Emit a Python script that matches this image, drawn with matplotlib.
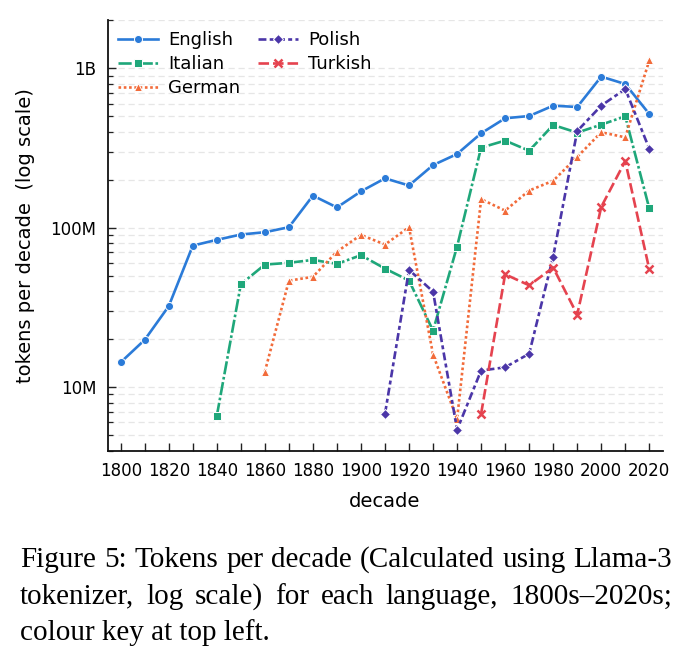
import matplotlib
matplotlib.use("Agg")
import matplotlib.pyplot as plt
from matplotlib.ticker import FixedLocator, LogLocator, NullFormatter

plt.rcParams["font.family"] = ["DejaVu Sans"]

decades = list(range(1800, 2030, 10))

english = [14.3e6, 19.8e6, 32.2e6, 77.2e6, 83.9e6, 90.6e6, 93.7e6, 100.7e6,
           159e6, 134e6, 169e6, 204e6, 184e6, 247e6, 290e6, 391e6, 486e6,
           502e6, 583e6, 572e6, 887e6, 797e6, 517e6]
italian_decades = list(range(1840, 2030, 10))
italian = [6.6e6, 44.2e6, 58.7e6, 60.2e6, 62.8e6, 59.3e6, 67.2e6, 55.4e6,
           46.6e6, 22.6e6, 76.2e6, 318e6, 352e6, 304e6, 441e6, 395e6, 443e6,
           500e6, 132e6]
german_decades = list(range(1860, 2030, 10))
german = [12.5e6, 46.5e6, 49.2e6, 70.8e6, 90.1e6, 78.4e6, 100.7e6, 16.0e6,
          6.3e6, 151e6, 128e6, 171e6, 197e6, 278e6, 397e6, 369e6, 1.12e9]
polish_decades = list(range(1910, 2030, 10))
polish = [6.8e6, 54.4e6, 39.7e6, 5.4e6, 12.7e6, 13.3e6, 16.2e6, 65.9e6,
          404e6, 583e6, 742e6, 313e6]
turkish_decades = list(range(1950, 2030, 10))
turkish = [6.8e6, 51e6, 43.5e6, 56.2e6, 28.5e6, 135e6, 262e6, 54.8e6]

series_names = ["English", "Italian", "German", "Polish", "Turkish"]
colors = ["#2b7bd8", "#1fa77a", "#f26b3a", "#4b36a8", "#e5434f"]
markers = ["o", "s", "^", "D", "x"]
dashes = [None, (5, 1, 1, 1), (1, 1), (3, 1.25, 1.5, 1.25), (4, 1.5)]

ytick_vals = [1e7, 1e8, 1e9]
ytick_labels = ["10M", "100M", "1B"]
xtick_labels_every = 20

caption_lines = ["Figure 5: Tokens per decade (Calculated using Llama-3",
                 "tokenizer, log scale) for each language, 1800s\u20132020s;",
                 "colour key at top left."]

W, H = 691, 661
fig = plt.figure(figsize=(W/100, H/100), dpi=100)
ax = fig.add_axes([107.5/W, 1 - 450.5/H, (662.5-107.5)/W, (450.5-20)/H])

data = [(decades, english), (italian_decades, italian), (german_decades, german),
        (polish_decades, polish), (turkish_decades, turkish)]

for (xs, ys), name, c, m, d in zip(data, series_names, colors, markers, dashes):
    kw = dict(color=c, lw=1.9, marker=m, label=name, zorder=3)
    if m == "x":
        kw.update(markersize=6, markeredgewidth=1.8, markeredgecolor=c)
    elif m == "D":
        kw.update(markersize=4.8, markeredgecolor="white", markeredgewidth=0.7)
    else:
        kw.update(markersize=5.8, markeredgecolor="white", markeredgewidth=0.7)
    line, = ax.plot(xs, ys, **kw)
    if d is not None:
        line.set_dashes(d)

ax.set_yscale("log")
ax.set_ylim(4.0e6, 2.01e9)
ax.set_xlim(1794.5, 2025.5)

ax.yaxis.set_major_locator(FixedLocator(ytick_vals))
ax.set_yticklabels(ytick_labels)
ax.yaxis.set_minor_locator(LogLocator(base=10, subs=range(2, 10)))
ax.yaxis.set_minor_formatter(NullFormatter())

ax.set_xticks(decades)
ax.set_xticklabels([str(d) if d % xtick_labels_every == 0 else "" for d in decades])

ax.tick_params(axis="both", which="major", direction="in", length=5.5, width=1.0,
               labelsize=12, color="#222222")
ax.tick_params(axis="y", which="minor", direction="in", length=3.5, width=0.9, color="#222222")
ax.tick_params(axis="x", which="major", pad=8)
ax.tick_params(axis="y", which="major", pad=8)

for s in ["top", "right"]:
    ax.spines[s].set_visible(False)
for s in ["left", "bottom"]:
    ax.spines[s].set_linewidth(1.3)
    ax.spines[s].set_color("#111111")

ax.grid(True, axis="y", which="both", linestyle=(0, (5, 3)), color="#e6e6e6", lw=0.9, zorder=0)
ax.set_axisbelow(True)

ax.set_xlabel("decade", fontsize=14, labelpad=9)
ax.set_ylabel("tokens per decade  (log scale)", fontsize=14, labelpad=11)

leg = ax.legend(loc="upper left", ncol=2, frameon=False, fontsize=13,
                handlelength=2.2, columnspacing=1.0, handletextpad=0.55,
                labelspacing=0.35, borderaxespad=0.2)

# caption (first two lines justified to the same width, as in the source)
cap_kw = dict(fontsize=21.0, family="Liberation Serif", va="baseline", ha="left")
left_px, right_px = 20, 672
baselines = [566.7, 603.7, 640.0]
renderer = fig.canvas.get_renderer()
for i, (txt, base) in enumerate(zip(caption_lines, baselines)):
    y = 1 - base / H
    if i == len(caption_lines) - 1:
        fig.text(left_px / W, y, txt, **cap_kw)
        continue
    words = txt.split(" ")
    objs = [fig.text(0, y, w, **cap_kw) for w in words]
    widths = [o.get_window_extent(renderer).width for o in objs]
    gap = (right_px - left_px - sum(widths)) / (len(words) - 1)
    xpos = left_px
    for o, wd in zip(objs, widths):
        o.set_x(xpos / W)
        xpos += wd + gap

fig.savefig("out.png", dpi=100)
